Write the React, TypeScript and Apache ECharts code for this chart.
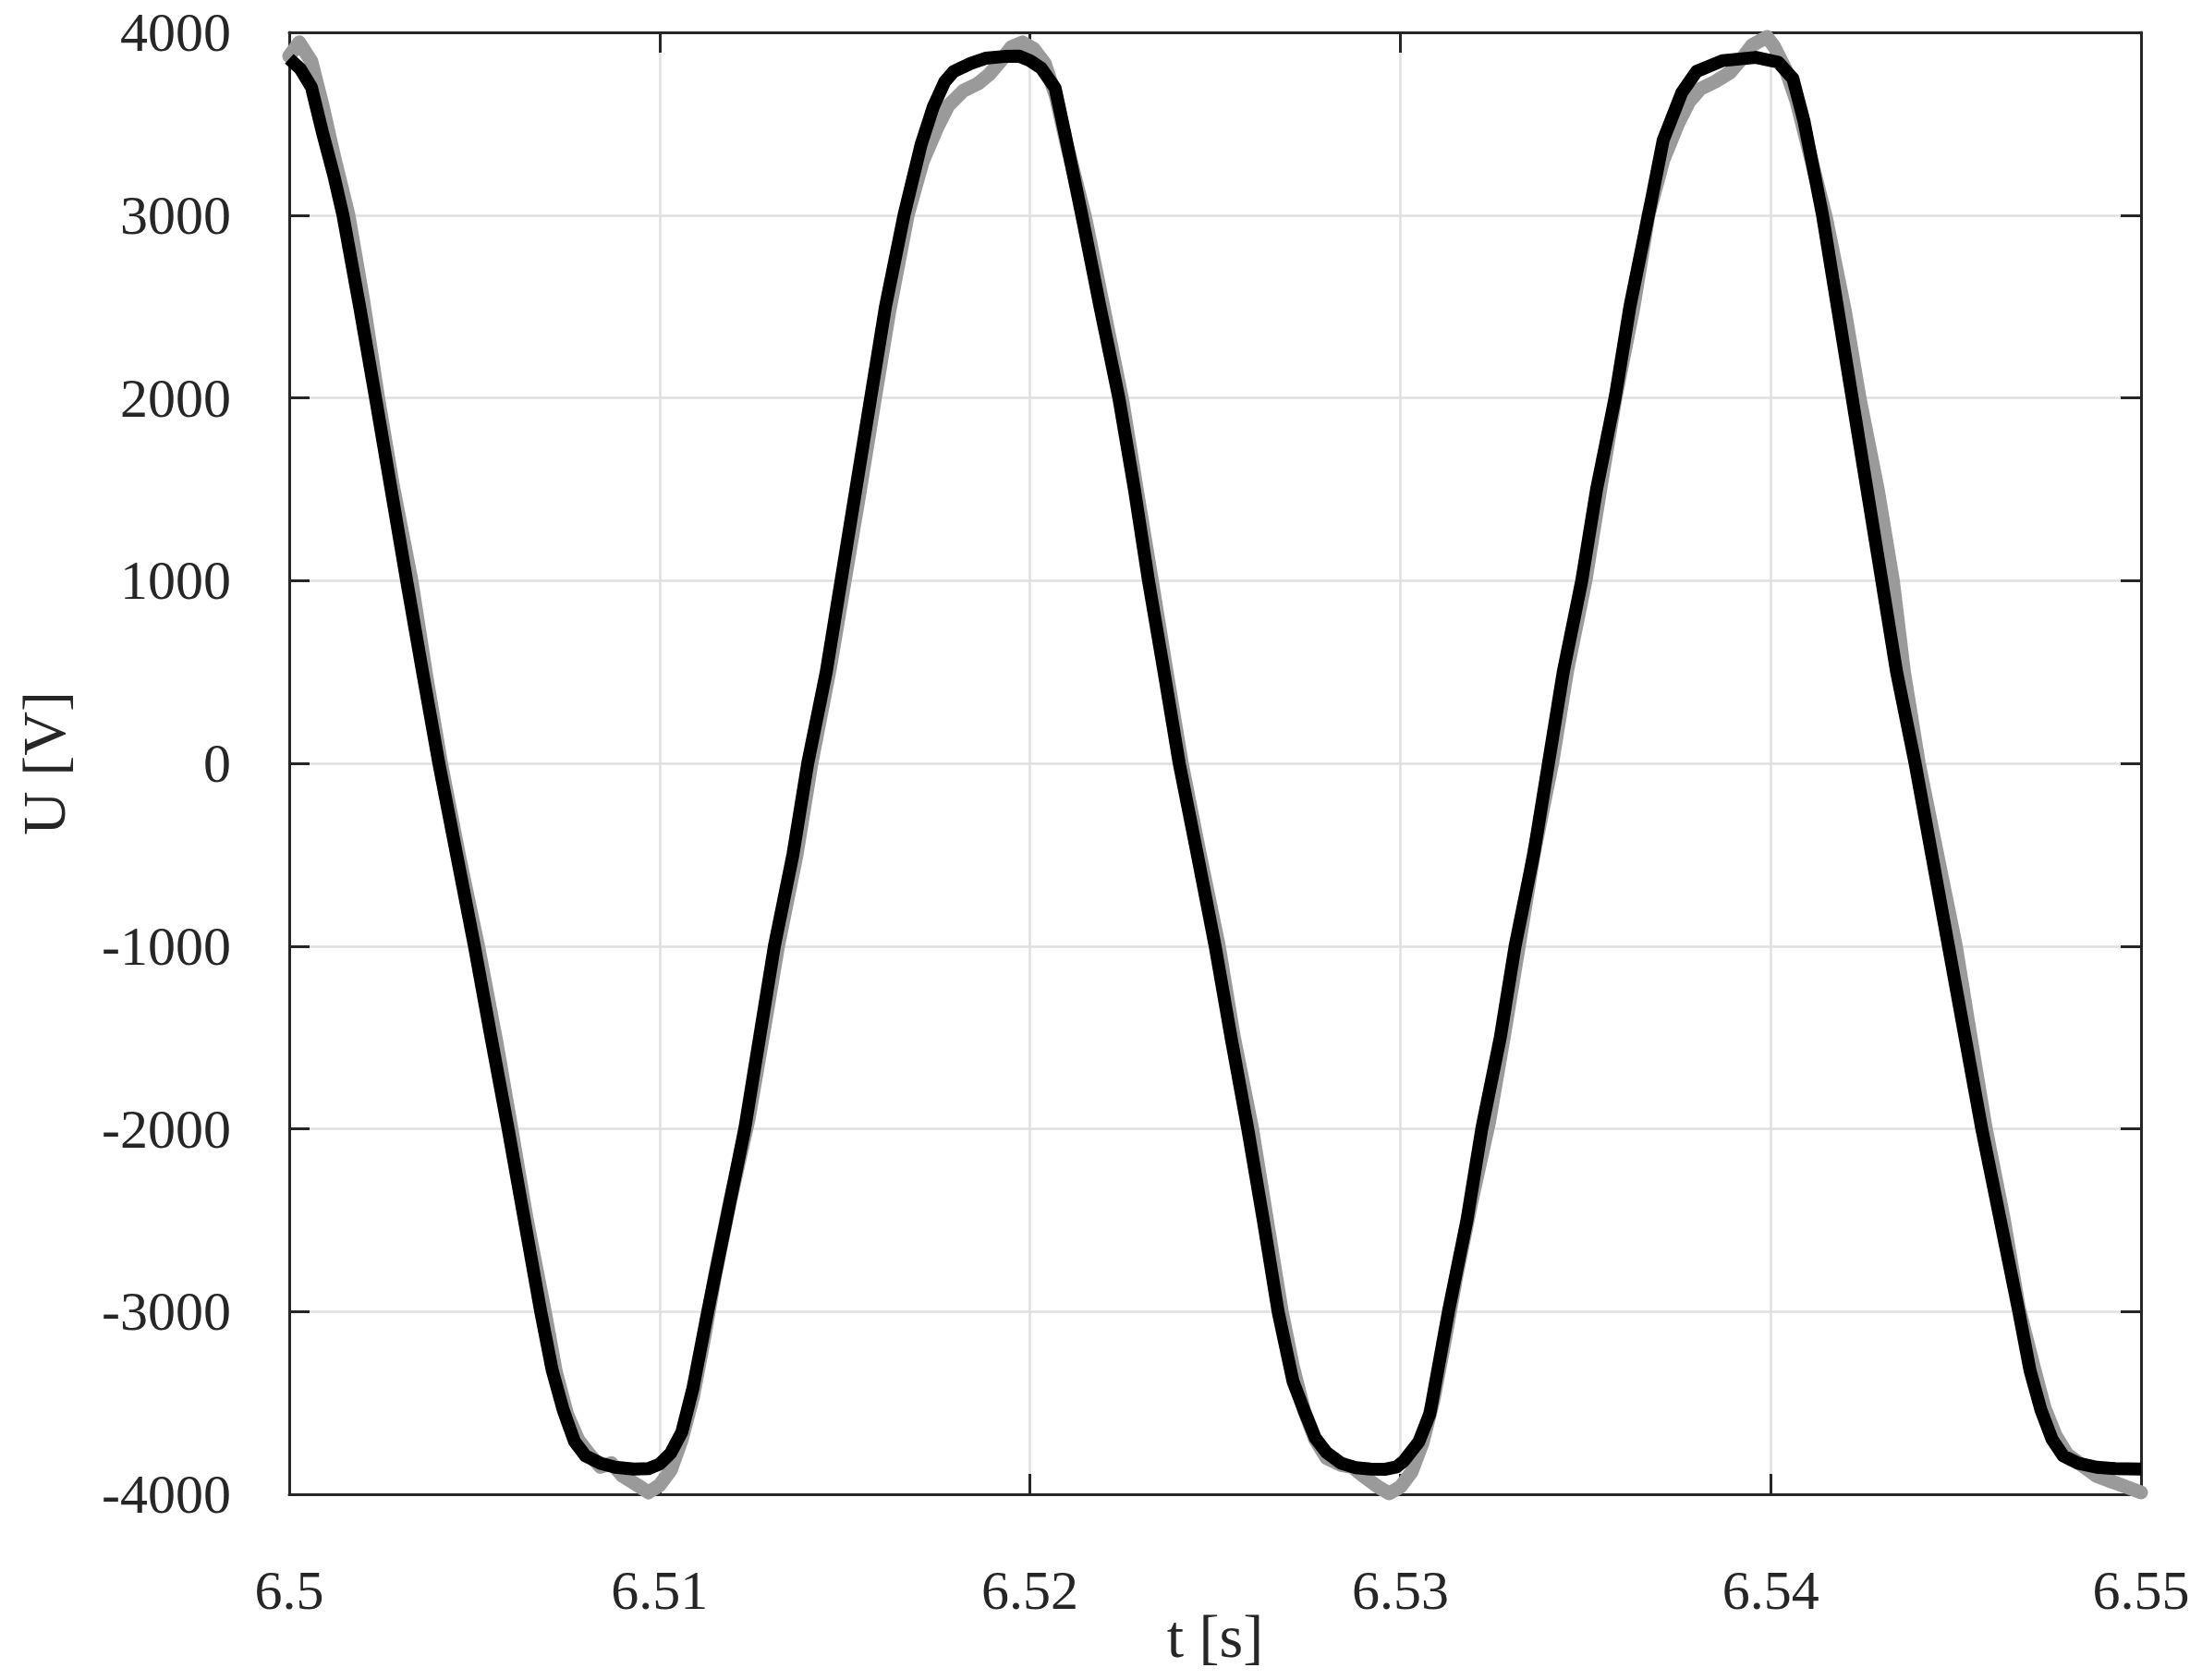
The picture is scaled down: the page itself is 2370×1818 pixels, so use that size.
import React, { useEffect, useRef } from "react";
import * as echarts from "echarts";

// time axis [s]
const xMin = 6.5;
const xMax = 6.55;
const xStep = 0.01;
// voltage axis [V]
const yMin = -4000;
const yMax = 4000;
const yStep = 1000;

// simulated voltage (black)
const blackT = [
  6.5, 6.5003, 6.5006, 6.5009, 6.5012, 6.50145, 6.5019, 6.50233, 6.50275, 6.50317, 6.5036, 6.50404,
  6.50452, 6.505, 6.50545, 6.50591, 6.50635, 6.50679, 6.5071, 6.5074, 6.5077, 6.508, 6.5084, 6.5088,
  6.5093, 6.5097, 6.51, 6.5103, 6.5106, 6.5109, 6.5113, 6.5118, 6.5123, 6.5127, 6.5131, 6.5136, 6.514,
  6.5145, 6.5149, 6.5153, 6.5157, 6.5161, 6.5166, 6.51706, 6.51739, 6.5177, 6.51794, 6.5184, 6.5188,
  6.5193, 6.51971, 6.52, 6.5203, 6.52068, 6.52096, 6.5214, 6.5219, 6.5224, 6.52282, 6.5232, 6.52362,
  6.52403, 6.52452, 6.525, 6.52543, 6.52588, 6.5263, 6.5267, 6.5271, 6.5274, 6.5277, 6.528, 6.5284, 6.5288,
  6.5292, 6.5296, 6.5299, 6.5301, 6.5305, 6.5308, 6.5313, 6.5318, 6.5322, 6.5327, 6.5331, 6.5336, 6.534,
  6.5344, 6.5349, 6.5353, 6.5358, 6.5362, 6.5367, 6.5371, 6.5376, 6.538, 6.5387, 6.5396, 6.5402, 6.5406,
  6.5409, 6.5414, 6.5418, 6.5422, 6.5426, 6.543, 6.5434, 6.5439, 6.54435, 6.5448, 6.54525, 6.5457, 6.5462,
  6.5467, 6.547, 6.5473, 6.5476, 6.5479, 6.5483, 6.5488, 6.5493, 6.55,
];
const blackU = [
  3855, 3800, 3700, 3450, 3220, 3000, 2500, 2000, 1500, 1000, 500, 0,
  -500, -1000, -1500, -2000, -2500, -3000, -3320, -3540, -3710, -3790, -3830, -3852,
  -3862, -3860, -3835, -3775, -3660, -3420, -3000, -2500, -2000, -1500, -1000, -500, 0,
  500, 1000, 1500, 2000, 2500, 3000, 3385, 3592, 3730, 3786, 3830, 3858,
  3868, 3870, 3845, 3805, 3695, 3430, 3000, 2490, 2000, 1500, 1000, 500,
  0, -500, -1000, -1500, -2000, -2500, -3000, -3380, -3540, -3690, -3770, -3830, -3855,
  -3862, -3863, -3850, -3817, -3713, -3558, -3000, -2500, -2000, -1500, -1000, -500, 0,
  500, 1000, 1500, 2000, 2500, 3000, 3411, 3670, 3786, 3845, 3863, 3837, 3747,
  3514, 3000, 2500, 2000, 1500, 1000, 500, 0, -500, -1000, -1500, -2000, -2500,
  -3000, -3320, -3540, -3700, -3790, -3830, -3852, -3860, -3862,
];

// measured voltage (grey)
const grayT = [
  6.5, 6.50027, 6.5006, 6.5009, 6.5012, 6.5016, 6.502, 6.5024, 6.5028, 6.5033, 6.5037, 6.5041, 6.5046,
  6.5051, 6.5056, 6.506, 6.5064, 6.5069, 6.5072, 6.5075, 6.5078, 6.5081, 6.5084, 6.5087, 6.509, 6.5094,
  6.5097, 6.51, 6.5103, 6.5106, 6.5109, 6.5112, 6.5115, 6.5119, 6.5124, 6.5128, 6.5132, 6.5137, 6.5141,
  6.5146, 6.515, 6.5154, 6.5158, 6.5162, 6.5167, 6.5171, 6.5175, 6.5178, 6.5182, 6.5186, 6.5189, 6.5192,
  6.5195, 6.5198, 6.5201, 6.5204, 6.5207, 6.521, 6.5215, 6.522, 6.5225, 6.5229, 6.5233, 6.5237, 6.5241,
  6.5246, 6.5251, 6.5255, 6.526, 6.5264, 6.5268, 6.5271, 6.5274, 6.5277, 6.528, 6.5284, 6.5287, 6.529,
  6.5294, 6.5297, 6.53, 6.5303, 6.5306, 6.5309, 6.5312, 6.5315, 6.5319, 6.5324, 6.5328, 6.5332, 6.5336,
  6.5341, 6.5345, 6.535, 6.5354, 6.5358, 6.5363, 6.5367, 6.5371, 6.5375, 6.5378, 6.5381, 6.5385, 6.5389,
  6.5392, 6.5395, 6.5399, 6.5401, 6.5404, 6.5407, 6.541, 6.5415, 6.542, 6.5424, 6.5429, 6.5433, 6.5436,
  6.544, 6.5445, 6.545, 6.5454, 6.5458, 6.5463, 6.5467, 6.5471, 6.5474, 6.5477, 6.548, 6.5484, 6.5488,
  6.5492, 6.5496, 6.55,
];
const grayU = [
  3870, 3945, 3840, 3600, 3330, 3000, 2530, 2000, 1520, 1000, 480, 0, -520,
  -1000, -1530, -2000, -2480, -3000, -3330, -3560, -3700, -3780, -3850, -3830, -3900, -3950,
  -3990, -3950, -3870, -3700, -3470, -3150, -2800, -2400, -1950, -1480, -1000, -500, 0,
  520, 1000, 1480, 1980, 2470, 3000, 3290, 3480, 3600, 3680, 3720, 3770, 3840,
  3920, 3945, 3910, 3830, 3650, 3380, 2980, 2480, 1980, 1480, 990, 490, 0,
  -510, -1000, -1490, -2000, -2500, -3000, -3300, -3540, -3700, -3800, -3840, -3850, -3900,
  -3960, -3995, -3960, -3880, -3720, -3480, -3160, -2820, -2420, -1960, -1490, -1000, -500,
  0, 500, 1000, 1500, 1990, 2500, 3000, 3300, 3500, 3620, 3690, 3730, 3780,
  3850, 3930, 3975, 3920, 3800, 3620, 3380, 2980, 2480, 2000, 1490, 1000, 500,
  0, -500, -1000, -1500, -1990, -2500, -2980, -3300, -3530, -3680, -3780, -3840, -3900,
  -3930, -3960, -3990,
];

const FONT = '"Liberation Serif", "Times New Roman", Times, serif';
const INK = "#262626";

export default function App() {
  const ref = useRef<HTMLDivElement>(null);

  useEffect(() => {
    if (!ref.current) return;
    const chart = echarts.init(ref.current, undefined, { renderer: "svg" });
    const grayData = grayT.map((t, i) => [t, grayU[i]]);
    const blackData = blackT.map((t, i) => [t, blackU[i]]);

    const commonX = {
      type: "value" as const,
      min: xMin,
      max: xMax,
      interval: xStep,
    };
    const commonY = {
      type: "value" as const,
      min: yMin,
      max: yMax,
      interval: yStep,
    };
    const axisLine = { show: true, onZero: false, lineStyle: { color: INK, width: 3 } };
    const axisTick = { show: true, inside: true, length: 22, lineStyle: { color: INK, width: 3 } };

    chart.setOption({
      animation: false,
      backgroundColor: "#ffffff",
      grid: {
        left: 313,
        right: 53,
        top: 35,
        bottom: 201,
        containLabel: false,
        outerBoundsMode: "none",
      },
      xAxis: [
        {
          ...commonX,
          position: "bottom",
          axisLine,
          axisTick,
          axisLabel: {
            color: INK,
            fontFamily: FONT,
            fontSize: 60,
            margin: 74,
            formatter: (v: number) => String(Number(v.toFixed(2))),
          },
          splitLine: { show: true, lineStyle: { color: "#dfdfdf", width: 2.5 } },
          name: "t [s]",
          nameLocation: "middle",
          nameGap: 120,
          nameMoveOverlap: false,
          nameTextStyle: { color: INK, fontFamily: FONT, fontSize: 66 },
        },
        {
          ...commonX,
          position: "top",
          axisLine,
          axisTick,
          axisLabel: { show: false },
          splitLine: { show: false },
        },
      ],
      yAxis: [
        {
          ...commonY,
          position: "left",
          axisLine,
          axisTick,
          axisLabel: {
            color: INK,
            fontFamily: FONT,
            fontSize: 60,
            margin: 63,
            formatter: (v: number) => String(v),
          },
          splitLine: { show: true, lineStyle: { color: "#dfdfdf", width: 2.5 } },
          name: "U [V]",
          nameLocation: "middle",
          nameGap: 233,
          nameRotate: 90,
          nameTextStyle: { color: INK, fontFamily: FONT, fontSize: 66 },
        },
        {
          ...commonY,
          position: "right",
          axisLine,
          axisTick,
          axisLabel: { show: false },
          splitLine: { show: false },
        },
      ],
      series: [
        {
          name: "measured",
          type: "line",
          data: grayData,
          showSymbol: false,
          smooth: false,
          lineStyle: { color: "#9a9a9a", width: 15, join: "round", cap: "round" },
          z: 2,
        },
        {
          name: "simulated",
          type: "line",
          data: blackData,
          showSymbol: false,
          smooth: false,
          lineStyle: { color: "#000000", width: 14, join: "round", cap: "butt" },
          z: 3,
        },
      ],
    });
    return () => chart.dispose();
  }, []);

  return (
    <div
      ref={ref}
      style={{ position: "fixed", left: 0, top: 0, width: 2370, height: 1818, background: "#fff" }}
    />
  );
}
